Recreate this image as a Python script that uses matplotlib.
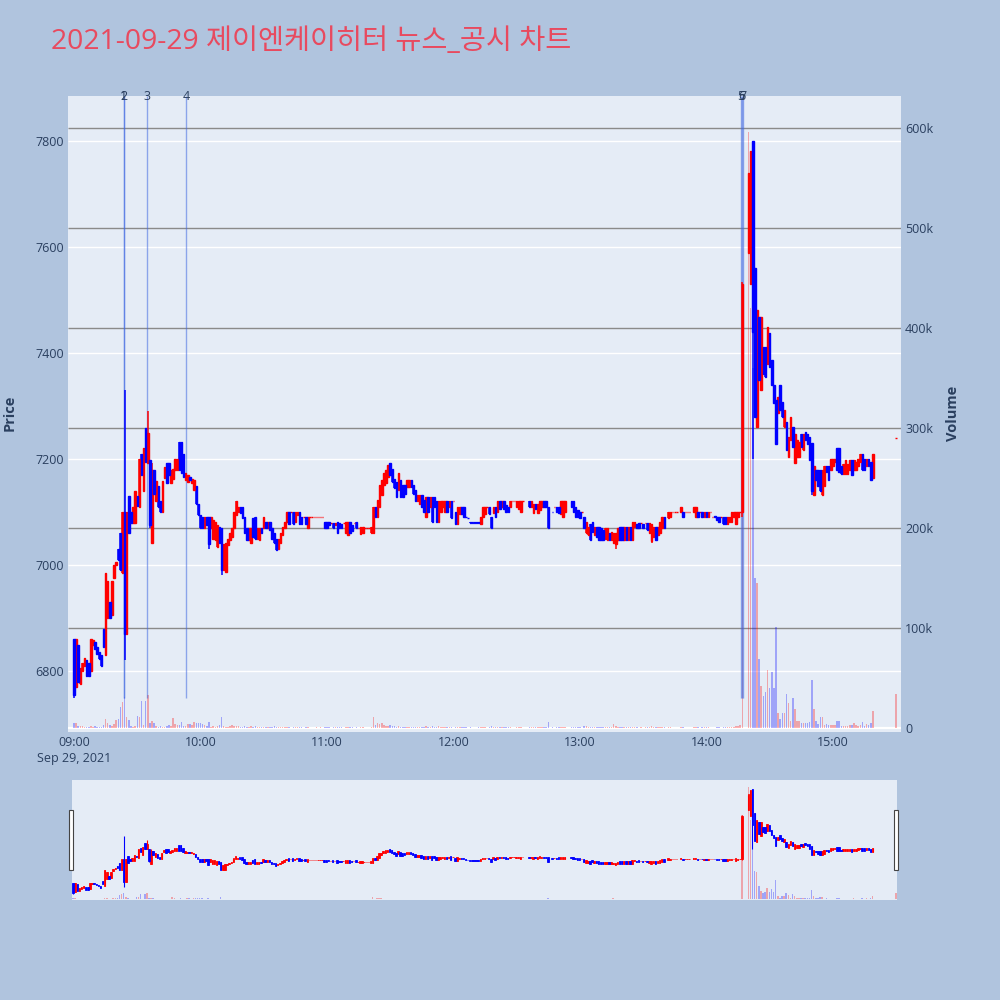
import numpy as np
import pandas as pd
import matplotlib
matplotlib.use('Agg')
import matplotlib.pyplot as plt
import matplotlib.dates as mdates
import matplotlib.transforms as mtransforms
from matplotlib.ticker import FuncFormatter
from matplotlib.patches import Rectangle

plt.rcParams['font.family'] = ['Open Sans', 'Noto Sans CJK KR', 'DejaVu Sans']

title = '2021-09-29 제이엔케이히터 뉴스_공시 차트'

# 1-minute candles from 09:00 (index = minutes after 09:00), last value is the 15:30 close
opens = [
    6860, 6770, 6850, 6775, 6800, 6810, 6820, 6815, 6800, 6850,
    6855, 6845, 6835, 6830, 6880, 6830, 6900, 6930, 6905, 6975,
    7000, 7030, 7060, 6985, 7100, 6870, 7130, 7100, 7080, 7080,
    7130, 7110, 7210, 7140, 7258, 7192, 7198, 7041, 7180, 7120,
    7150, 7120, 7100, 7165, 7192, 7192, 7155, 7163, 7179, 7179,
    7233, 7233, 7210, 7160, 7157, 7166, 7154, 7141, 7150, 7116,
    7095, 7091, 7069, 7091, 7091, 7069, 7050, 7047, 7035, 7071,
    7069, 6990, 6987, 7037, 7047, 7053, 7069, 7094, 7100, 7110,
    7110, 7091, 7069, 7047, 7041, 7088, 7091, 7050, 7047, 7069,
    7069, 7082, 7069, 7082, 7069, 7060, 7050, 7031, 7041, 7057,
    7069, 7082, 7100, 7100, 7100, 7082, 7094, 7100, 7091, 7090,
    7090, 7069, 7090, 7090, 7090, 7090, 7090, 7090, 7090, 7082,
    7082, 7082, 7080, 7080, 7075, 7082, 7080, 7078, 7080, 7060,
    7057, 7082, 7075, 7080, 7082, 7069, 7058, 7060, 7069, 7069,
    7069, 7060, 7060, 7110, 7090, 7110, 7132, 7151, 7154, 7167,
    7192, 7182, 7163, 7157, 7141, 7160, 7151, 7151, 7148, 7148,
    7160, 7151, 7141, 7120, 7116, 7132, 7122, 7091, 7129, 7110,
    7129, 7129, 7120, 7082, 7100, 7110, 7100, 7120, 7110, 7120,
    7120, 7100, 7078, 7097, 7110, 7110, 7091, 7089, 7081, 7081,
    7081, 7081, 7081, 7078, 7091, 7097, 7110, 7110, 7091, 7098,
    7110, 7100, 7120, 7110, 7120, 7113, 7110, 7110, 7120, 7120,
    7110, 7106, 7100, 7120, None, None, 7120, 7110, 7099, 7116,
    7099, 7104, 7110, 7120, 7120, 7110, None, 7101, 7110, 7110,
    7110, 7097, 7091, 7100, None, None, 7120, 7120, 7110, 7104,
    7100, 7100, 7091, 7060, 7057, 7078, 7082, 7057, 7071, 7071,
    7069, 7066, 7050, 7048, 7061, 7047, 7041, 7040, 7048, 7071,
    7071, 7048, 7071, 7048, 7071, 7048, 7071, 7078, 7080, 7080,
    7078, 7080, 7080, 7060, 7045, 7053, 7071, 7057, 7060, 7069,
    7091, None, 7088, 7090, 7100, 7100, 7100, None, 7100, 7100,
    7100, 7100, 7100, None, 7100, 7091, 7100, 7100, 7100, 7090,
    7100, 7090, 7100, 7091, 7092, 7091, 7091, 7091, 7091, 7091,
    7078, 7082, 7082, 7091, 7078, 7090, 7100, 7100, None, None,
    7588, 7530, 7800, 7560, 7261, 7468, 7330, 7412, 7412, 7380,
    7437, 7387, 7340, 7311, 7286, 7340, 7308, 7261, 7270, 7204,
    7236, 7261, 7192, 7204, 7204, 7248, 7217, 7251, 7248, 7242,
    7230, 7132, 7180, 7180, 7180, 7132, 7150, 7187, 7187, 7180,
    7187, 7194, 7220, 7220, 7187, 7172, 7172, 7172, 7180, 7198,
    7180, 7180, 7187, 7194, 7210, 7201, 7187, 7201, 7194, 7165,
    7240,
]
closes = [
    6755, 6860, 6780, 6805, 6815, 6825, 6790, 6790, 6860, 6858,
    6842, 6832, 6822, 6810, 6845, 6985, 6970, 6900, 6970, 7000,
    7005, 7010, 6990, 7100, 6870, 7100, 7060, 7080, 7110, 7140,
    7112, 7200, 7170, 7220, 7195, 7250, 7075, 7180, 7135, 7158,
    7110, 7100, 7158, 7185, 7155, 7170, 7180, 7182, 7201, 7201,
    7179, 7173, 7167, 7173, 7170, 7160, 7163, 7160, 7116, 7095,
    7069, 7069, 7091, 7075, 7040, 7091, 7085, 7082, 7075, 7041,
    6990, 7040, 7041, 7050, 7060, 7069, 7100, 7120, 7110, 7098,
    7088, 7060, 7047, 7069, 7069, 7053, 7050, 7069, 7069, 7060,
    7091, 7069, 7082, 7066, 7050, 7041, 7028, 7050, 7060, 7071,
    7082, 7100, 7078, 7100, 7078, 7100, 7100, 7078, 7078, 7090,
    7078, 7090, 7090, 7090, 7090, 7090, 7090, 7090, 7090, 7069,
    7069, 7075, 7080, 7069, 7080, 7060, 7070, 7069, 7080, 7082,
    7082, 7060, 7065, 7080, 7069, 7069, 7071, 7071, 7069, 7069,
    7069, 7071, 7110, 7090, 7122, 7151, 7160, 7173, 7180, 7189,
    7170, 7157, 7145, 7129, 7173, 7129, 7129, 7135, 7160, 7160,
    7148, 7135, 7120, 7132, 7132, 7110, 7100, 7129, 7100, 7129,
    7082, 7110, 7082, 7120, 7120, 7120, 7120, 7100, 7120, 7088,
    7120, 7078, 7110, 7110, 7097, 7091, 7090, 7088, 7080, 7080,
    7080, 7080, 7080, 7091, 7110, 7110, 7110, 7097, 7070, 7110,
    7090, 7120, 7106, 7120, 7106, 7100, 7100, 7120, 7120, 7120,
    7120, 7120, 7120, 7120, None, None, 7110, 7120, 7116, 7106,
    7116, 7120, 7120, 7110, 7110, 7069, None, 7100, 7110, 7100,
    7099, 7120, 7120, 7120, None, None, 7110, 7100, 7091, 7090,
    7088, 7100, 7069, 7082, 7072, 7048, 7063, 7072, 7053, 7048,
    7048, 7048, 7069, 7069, 7048, 7063, 7060, 7060, 7069, 7048,
    7048, 7071, 7048, 7071, 7048, 7082, 7082, 7069, 7069, 7080,
    7069, 7080, 7066, 7080, 7078, 7071, 7048, 7071, 7082, 7091,
    7069, None, 7100, 7100, 7100, 7100, 7100, None, 7110, 7090,
    7100, 7100, 7100, None, 7110, 7110, 7090, 7100, 7091, 7100,
    7090, 7100, 7100, 7091, 7091, 7085, 7082, 7091, 7078, 7078,
    7091, 7091, 7100, 7100, 7100, 7100, 7100, 7530, None, None,
    7740, 7781, 7440, 7280, 7481, 7349, 7468, 7361, 7355, 7450,
    7374, 7340, 7305, 7229, 7317, 7292, 7280, 7292, 7217, 7242,
    7280, 7223, 7248, 7236, 7233, 7223, 7248, 7236, 7229, 7198,
    7140, 7187, 7161, 7150, 7140, 7180, 7187, 7176, 7161, 7201,
    7201, 7201, 7180, 7176, 7172, 7191, 7198, 7191, 7198, 7169,
    7198, 7194, 7201, 7209, 7180, 7180, 7201, 7187, 7161, 7209,
    7240,
]
# wicks that reach past the candle body (minute index -> price)
wick_highs = {24: 7330, 35: 7290, 37: 7192, 317: 7535}
wick_lows = {0: 6750, 24: 6820, 36: 7069, 64: 7031, 70: 6981, 257: 7031,
             274: 7041, 317: 7090, 322: 7200, 350: 7132}
# volume in thousands of shares
volumes_k = [
    5, 5, 2, 2, 2, 1, 1, 1, 2, 1,
    2, 1, 1, 1, 3, 9, 5, 3, 2, 4,
    8, 9, 21, 26, 31, 11, 8, 2, 1, 2,
    12, 11, 27, 3, 27, 33, 5, 7, 5, 2,
    1, 2, 1, 1, 2, 3, 2, 10, 4, 3,
    3, 6, 2, 2, 4, 4, 3, 6, 5, 5,
    5, 4, 3, 2, 6, 1, 2, 1, 2, 3,
    11, 2, 1, 1, 2, 3, 2, 2, 2, 1,
    1, 2, 1, 1, 2, 1, 2, 1, 1, 1,
    1, 1, 1, 1, 1, 2, 1, 1, 1, 1,
    1, 1, 1, 0, 1, 1, 1, 1, 1, 0,
    1, 1, 0, 0, 0, 1, 0, 1, 0, 1,
    1, 1, 0, 1, 1, 1, 1, 1, 0, 1,
    1, 1, 1, 0, 1, 0, 1, 1, 0, 0,
    0, 1, 11, 3, 5, 4, 5, 3, 2, 2,
    3, 2, 2, 1, 2, 1, 1, 1, 1, 1,
    1, 1, 1, 1, 1, 1, 1, 2, 1, 1,
    2, 1, 1, 2, 1, 1, 1, 1, 1, 1,
    0, 1, 1, 1, 1, 1, 1, 0, 1, 0,
    0, 0, 1, 1, 1, 1, 0, 1, 2, 1,
    1, 1, 1, 1, 1, 1, 1, 1, 0, 0,
    1, 1, 1, 0, 0, 0, 1, 1, 1, 1,
    1, 1, 1, 1, 1, 6, 0, 1, 0, 1,
    1, 1, 1, 1, 0, 0, 1, 1, 1, 1,
    1, 0, 2, 2, 1, 1, 1, 1, 1, 1,
    1, 1, 1, 1, 1, 1, 4, 2, 1, 1,
    1, 1, 1, 1, 1, 1, 1, 1, 0, 1,
    0, 1, 1, 1, 2, 1, 1, 1, 1, 1,
    1, 0, 1, 1, 0, 0, 0, 0, 1, 1,
    0, 0, 0, 0, 1, 1, 1, 0, 1, 1,
    1, 1, 0, 0, 0, 1, 1, 0, 1, 1,
    1, 1, 1, 1, 2, 2, 3, 445, 0, 0,
    596, 420, 360, 150, 145, 69, 42, 32, 36, 58,
    40, 56, 40, 101, 15, 9, 15, 15, 34, 25,
    7, 30, 19, 7, 7, 5, 5, 5, 5, 6,
    48, 19, 7, 4, 11, 11, 3, 4, 3, 3,
    3, 3, 7, 7, 2, 2, 2, 2, 3, 3,
    5, 3, 2, 3, 6, 2, 4, 3, 5, 17,
    34,
]

news_times = ['09:23:40', '09:23:45', '09:34:45', '09:53:05', '14:16:20', '14:16:50', '14:17:20']
news_labels = ['1', '2', '3', '4', '5', '6', '7']

price_ticks = [6800, 7000, 7200, 7400, 7600, 7800]
volume_ticks = [0, 100000, 200000, 300000, 400000, 500000, 600000]

times = pd.date_range('2021-09-29 09:00', periods=380, freq='min').append(
    pd.DatetimeIndex(['2021-09-29 15:30']))

o = np.array([np.nan if v is None else v for v in opens], dtype=float)
c = np.array([np.nan if v is None else v for v in closes], dtype=float)
hi = np.fmax(o, c)
lo = np.fmin(o, c)
lo_body = np.fmin(o, c)
for k, v in wick_highs.items():
    hi[k] = v
for k, v in wick_lows.items():
    lo[k] = v
vol = np.array(volumes_k, dtype=float) * 1000
valid = ~np.isnan(o)
up = valid & (c >= o)
down = valid & (c < o)

x = mdates.date2num(times.to_pydatetime())
minute = 1.0 / 1440
news_x = mdates.date2num(pd.to_datetime(['2021-09-29 ' + t for t in news_times]).to_pydatetime())

RED = '#FF0000'
BLUE = '#0000FF'
TXT = '#2a3f5f'
PLOT_BG = '#E5ECF6'


def draw_data(ax_v, ax_p, body_lw, wick_lw):
    vcol = np.where(c >= o, RED, BLUE)
    ax_v.bar(x, vol, width=0.7 * minute, color=vcol, alpha=0.3, linewidth=0, zorder=2)
    for mask, col in ((up, RED), (down, BLUE)):
        ax_p.vlines(x[mask], lo[mask], hi[mask], color=col, lw=wick_lw, zorder=3)
        ax_p.bar(x[mask], np.abs(c - o)[mask], bottom=lo_body[mask], width=0.7 * minute,
                 color=col, edgecolor=col, linewidth=body_lw, zorder=4)


fig = plt.figure(figsize=(10, 10), dpi=100, facecolor='#B0C4DE')

# ---- main chart
ax_v = fig.add_axes([0.068, 0.268, 0.833, 0.636])
ax_v.set_facecolor(PLOT_BG)
ax_p = ax_v.twinx()

ax_v.set_xlim(mdates.date2num(pd.Timestamp('2021-09-29 08:57:09')),
              mdates.date2num(pd.Timestamp('2021-09-29 15:32:18')))
ax_v.set_ylim(-4000, 632000)
ax_p.set_ylim(6685, 7885)

# gridlines under everything
blend = mtransforms.blended_transform_factory(ax_v.transAxes, ax_p.transData)
ax_v.hlines(price_ticks, 0, 1, transform=blend, color='white', lw=1, zorder=0.5)
ax_v.hlines(volume_ticks[1:], 0, 1, transform=ax_v.get_yaxis_transform(), color='#8a8a8a', lw=1, zorder=0.6)
ax_v.axhline(0, color='white', lw=1.6, zorder=0.7)

draw_data(ax_v, ax_p, 1.0, 1.1)

# news markers
ax_p.vlines(news_x, 6750, 7885, color='royalblue', alpha=0.55, lw=1, zorder=2)
for nx, lab in zip(news_x, news_labels):
    ax_p.text(nx, 7885, lab, ha='center', va='center', fontsize=9, color=TXT, clip_on=False)

ax_p.yaxis.tick_left()
ax_v.yaxis.tick_right()
ax_p.set_yticks(price_ticks)
ax_v.set_yticks(volume_ticks)
ax_v.yaxis.set_major_formatter(FuncFormatter(lambda v, p: '0' if v == 0 else '%dk' % (v / 1000)))

ax_v.xaxis.set_major_locator(mdates.HourLocator())


def fmt_time(v, pos):
    d = mdates.num2date(v)
    s = d.strftime('%H:%M')
    if s == '09:00':
        s += '\nSep 29, 2021'
    return s


ax_v.xaxis.set_major_formatter(FuncFormatter(fmt_time))
for a in (ax_v, ax_p):
    a.tick_params(length=0, labelsize=9, labelcolor=TXT, pad=3)
    for s in a.spines.values():
        s.set_visible(False)
for lab in ax_v.get_xticklabels():
    lab.set_linespacing(1.3)

fig.text(0.010, 0.587, 'Price', rotation=90, ha='center', va='center',
         fontsize=10.5, fontweight='bold', color=TXT)
fig.text(0.953, 0.587, 'Volume', rotation=90, ha='center', va='center',
         fontsize=10.5, fontweight='bold', color=TXT)
fig.text(0.051, 0.958, title, ha='left', va='center', fontsize=20.4, color='#E84A5F')

# ---- range slider
ax_rv = fig.add_axes([0.072, 0.100, 0.825, 0.120])
ax_rv.set_facecolor(PLOT_BG)
ax_rp = ax_rv.twinx()
ax_rv.set_xlim(x[0] - 0.5 * minute, x[-1] + 0.5 * minute)
ax_rv.set_ylim(-4000, 632000)
ax_rp.set_ylim(6685, 7885)
draw_data(ax_rv, ax_rp, 0.6, 0.8)
for a in (ax_rv, ax_rp):
    a.set_xticks([])
    a.set_yticks([])
    for s in a.spines.values():
        s.set_visible(False)
for hx in (-0.0036, 0.9964):
    ax_rp.add_patch(Rectangle((hx, 0.25), 0.0048, 0.5, transform=ax_rv.transAxes, clip_on=False,
                              facecolor='white', edgecolor='#444444', lw=0.8, zorder=10))

fig.savefig('out.png', dpi=100, facecolor=fig.get_facecolor())
